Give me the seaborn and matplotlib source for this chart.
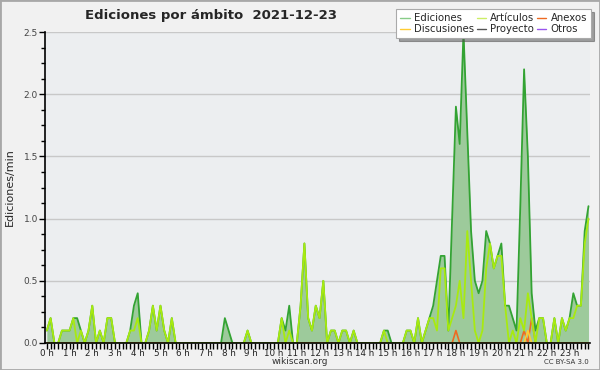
import matplotlib
matplotlib.use("Agg")
import numpy as np
import pandas as pd
import matplotlib.pyplot as plt
import seaborn as sns
from matplotlib.lines import Line2D
from matplotlib.patches import Rectangle
from matplotlib.ticker import MultipleLocator

# Datos: ediciones por minuto, tramos de 10 minutos (6 por hora)
ediciones = [
    0.1, 0.2, 0, 0, 0.1, 0.1,        # 0 h
    0.1, 0.2, 0.2, 0.1, 0, 0.1,      # 1 h
    0.3, 0, 0.1, 0, 0.2, 0.2,        # 2 h
    0, 0, 0, 0, 0.1, 0.3,            # 3 h
    0.4, 0, 0, 0.1, 0.3, 0.1,        # 4 h
    0.3, 0.1, 0, 0.2, 0, 0,          # 5 h
    0, 0, 0, 0, 0, 0,                # 6 h
    0, 0, 0, 0, 0, 0.2,              # 7 h
    0.1, 0, 0, 0, 0, 0.1,            # 8 h
    0, 0, 0, 0, 0, 0,                # 9 h
    0, 0, 0.2, 0.1, 0.3, 0,          # 10 h
    0, 0.3, 0.8, 0.2, 0.1, 0.3,      # 11 h
    0.2, 0.5, 0, 0.1, 0.1, 0,        # 12 h
    0.1, 0.1, 0, 0.1, 0, 0,          # 13 h
    0, 0, 0, 0, 0, 0.1,              # 14 h
    0.1, 0, 0, 0, 0, 0.1,            # 15 h
    0.1, 0, 0.2, 0, 0.1, 0.2,        # 16 h
    0.3, 0.5, 0.7, 0.7, 0.1, 1.0,    # 17 h
    1.9, 1.6, 2.5, 1.7, 0.9, 0.5,    # 18 h
    0.4, 0.5, 0.9, 0.8, 0.6, 0.7,    # 19 h
    0.8, 0.3, 0.3, 0.2, 0.1, 1.1,    # 20 h
    2.2, 1.5, 0.4, 0.1, 0.2, 0.2,    # 21 h
    0, 0, 0.2, 0, 0.2, 0.1,          # 22 h
    0.2, 0.4, 0.3, 0.3, 0.9, 1.1,    # 23 h
]

articulos = [
    0.1, 0.2, 0, 0, 0.1, 0.1,
    0.1, 0.2, 0, 0.1, 0, 0.1,
    0.3, 0, 0.1, 0, 0.2, 0.2,
    0, 0, 0, 0, 0.1, 0.1,
    0.2, 0, 0, 0.1, 0.3, 0.1,
    0.3, 0.1, 0, 0.2, 0, 0,
    0, 0, 0, 0, 0, 0,
    0, 0, 0, 0, 0, 0,
    0, 0, 0, 0, 0, 0.1,
    0, 0, 0, 0, 0, 0,
    0, 0, 0.2, 0, 0.1, 0,
    0, 0.3, 0.8, 0.2, 0.1, 0.3,
    0.2, 0.5, 0, 0.1, 0.1, 0,
    0.1, 0.1, 0, 0.1, 0, 0,
    0, 0, 0, 0, 0, 0.1,
    0, 0, 0, 0, 0, 0.1,
    0.1, 0, 0.2, 0, 0.1, 0.2,
    0.2, 0.1, 0.6, 0.6, 0.1, 0.2,
    0.3, 0.5, 0.2, 0.9, 0.5, 0.1,
    0, 0.1, 0.6, 0.8, 0.6, 0.7,
    0.7, 0.3, 0, 0.1, 0, 0.2,
    0.1, 0.4, 0.2, 0, 0.2, 0.2,
    0, 0, 0.2, 0, 0.2, 0.1,
    0.2, 0.2, 0.3, 0.3, 0.8, 1.0,
]

# solo tramos con valor distinto de cero (indice del tramo de 10 min)
anexos_tramo = [108, 126, 128]
anexos_valor = [0.1, 0.1, 0.2]
discusiones_tramo = [127]
discusiones_valor = [0.1]

horas_labels = [f"{h} h" for h in range(24)]

# ----------------------------------------------
df = pd.DataFrame({"hora": np.arange(len(ediciones)) / 6,
                   "ediciones": ediciones,
                   "articulos": articulos})
df["anexos"] = 0.0
df.loc[anexos_tramo, "anexos"] = anexos_valor
df["discusiones"] = 0.0
df.loc[discusiones_tramo, "discusiones"] = discusiones_valor

sns.set_theme(style="white")
plt.rcParams["font.family"] = ["DejaVu Sans"]

c_fill = "#9dca9b"
c_edic = "#33a333"
c_art = "#a8ea10"
c_anex = "#ee6a22"
c_disc = "#ffcc33"
c_proy = "#555555"
c_otros = "#9955ee"

fig = plt.figure(figsize=(6, 3.7), dpi=100, facecolor="#f1f1f1")
ax = fig.add_axes([45/600, 27/370, 545/600, 311/370])
ax.set_facecolor("#eceef0")

ax.fill_between(df["hora"], df["ediciones"], color=c_fill, lw=0, zorder=1)
sns.lineplot(data=df, x="hora", y="ediciones", ax=ax, color=c_edic, lw=1.3, zorder=3)
sns.lineplot(data=df, x="hora", y="articulos", ax=ax, color=c_art, lw=1.3, zorder=4)
sns.lineplot(data=df, x="hora", y="anexos", ax=ax, color=c_anex, lw=1.2, zorder=2)
sns.lineplot(data=df, x="hora", y="discusiones", ax=ax, color=c_disc, lw=1.2, zorder=2)

ax.set_xlim(-0.08, 23.9)
ax.set_ylim(0, 2.5)
ax.set_xticks(range(24))
ax.set_xticklabels(horas_labels, fontsize=6.3, color="#222222")
ax.xaxis.set_minor_locator(MultipleLocator(1/6))
ax.yaxis.set_major_locator(MultipleLocator(0.5))
ax.yaxis.set_minor_locator(MultipleLocator(0.125))
ax.set_yticklabels([f"{v:.1f}" for v in ax.get_yticks()], fontsize=6.5, color="#444444")
ax.tick_params(axis="both", which="both", direction="out", color="black", width=1,
               bottom=True, left=True)
ax.tick_params(axis="x", which="major", length=4, pad=0.5)
ax.tick_params(axis="x", which="minor", length=4)
ax.tick_params(axis="y", which="major", length=4, pad=1)
ax.tick_params(axis="y", which="minor", length=3)
ax.grid(axis="y", color="#c8c8c8", lw=1, zorder=0)
ax.set_axisbelow(True)
for s in ["top", "right"]:
    ax.spines[s].set_visible(False)
for s in ["left", "bottom"]:
    ax.spines[s].set_color("black")
    ax.spines[s].set_linewidth(1.2)
    ax.spines[s].set_zorder(6)
ax.set_xlabel("")
ax.set_ylabel("Ediciones/min", fontsize=8, labelpad=6)

fig.text(85/600, 1 - 15/370, "Ediciones por ámbito  2021-12-23",
         fontsize=9.5, fontweight="bold", ha="left", va="center")
fig.text(300/600, 1 - 362/370, "wikiscan.org", fontsize=6.5, ha="center", va="center", color="#333333")
fig.text(589/600, 1 - 362/370, "CC BY-SA 3.0", fontsize=5, ha="right", va="center", color="#333333")

handles = [
    Line2D([], [], color="#88cc88", lw=1, label="Ediciones"),
    Line2D([], [], color=c_disc, lw=1, label="Discusiones"),
    Line2D([], [], color="#ccee66", lw=1, label="Artículos"),
    Line2D([], [], color=c_proy, lw=1, label="Proyecto"),
    Line2D([], [], color=c_anex, lw=1, label="Anexos"),
    Line2D([], [], color=c_otros, lw=1, label="Otros"),
]
leg = fig.legend(handles=handles, ncol=3, loc="upper right",
                 bbox_to_anchor=(591/600, 1 - 9/370), fontsize=7.3,
                 frameon=True, fancybox=False, shadow=True,
                 handlelength=0.9, handletextpad=0.4, columnspacing=0.3,
                 labelspacing=0.1, borderpad=0.4, borderaxespad=0)
leg.get_frame().set_edgecolor("#aaaaaa")
leg.get_frame().set_linewidth(0.8)

fig.patches.append(Rectangle((0, 0), 1, 1, transform=fig.transFigure,
                             fill=False, edgecolor="#a8a8a8", lw=2))

fig.savefig("out.png", dpi=100, facecolor=fig.get_facecolor())
